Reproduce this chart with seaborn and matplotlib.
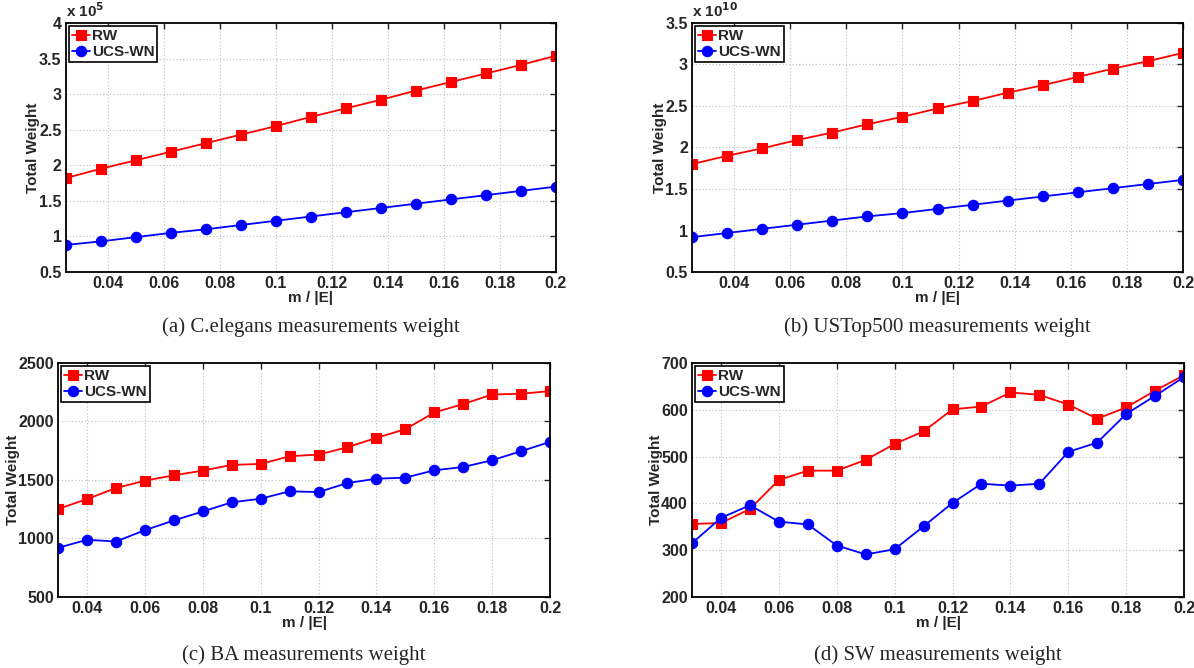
import pandas as pd
import numpy as np
import matplotlib
matplotlib.use("Agg")
import matplotlib.pyplot as plt
from matplotlib.ticker import FormatStrFormatter, MultipleLocator
import seaborn as sns

# x values (m / |E|)
x_top = [0.025, 0.0375, 0.05, 0.0625, 0.075, 0.0875, 0.1, 0.1125, 0.125,
         0.1375, 0.15, 0.1625, 0.175, 0.1875, 0.2]
x_bot = [0.03, 0.04, 0.05, 0.06, 0.07, 0.08, 0.09, 0.10, 0.11, 0.12,
         0.13, 0.14, 0.15, 0.16, 0.17, 0.18, 0.19, 0.20]

# (a) C.elegans, in units of 1e5
ce_rw = [1.82, 1.95, 2.07, 2.19, 2.31, 2.43, 2.55, 2.68, 2.80, 2.92, 3.05, 3.17, 3.29, 3.41, 3.54]
ce_ucs = [0.88, 0.93, 0.99, 1.05, 1.10, 1.16, 1.22, 1.28, 1.34, 1.40, 1.46, 1.52, 1.58, 1.64, 1.70]

# (b) USTop500, in units of 1e10
us_rw = [1.80, 1.90, 1.99, 2.09, 2.18, 2.28, 2.37, 2.47, 2.56, 2.66, 2.75, 2.85, 2.95, 3.04, 3.14]
us_ucs = [0.92, 0.97, 1.02, 1.07, 1.12, 1.17, 1.21, 1.26, 1.31, 1.36, 1.41, 1.46, 1.51, 1.56, 1.61]

# (c) BA
ba_rw = [1252, 1337, 1431, 1494, 1540, 1580, 1629, 1637, 1703, 1717,
         1780, 1860, 1934, 2077, 2149, 2231, 2237, 2260]
ba_ucs = [920, 989, 974, 1071, 1154, 1231, 1309, 1340, 1403, 1397,
          1474, 1511, 1520, 1583, 1611, 1669, 1746, 1826]

# (d) SW
sw_rw = [356, 358, 388, 450, 470, 470, 493, 527, 554, 601,
         607, 637, 632, 611, 581, 605, 641, 674]
sw_ucs = [315, 369, 396, 361, 355, 310, 291, 302, 351, 401,
          442, 438, 442, 510, 530, 591, 630, 670]

captions = ["(a) C.elegans measurements weight", "(b) USTop500 measurements weight",
            "(c) BA measurements weight", "(d) SW measurements weight"]

sns.set_style("whitegrid", {"grid.color": "#c4c4c4", "axes.edgecolor": "black",
                            "xtick.direction": "in", "ytick.direction": "in"})
plt.rcParams["font.family"] = ["Liberation Sans", "DejaVu Sans"]
plt.rcParams["font.weight"] = "bold"
plt.rcParams["axes.labelweight"] = "bold"

fig = plt.figure(figsize=(11.94, 6.68), dpi=100)
rects = [[0.0550, 0.5928, 0.4106, 0.3728],
         [0.5796, 0.5928, 0.4112, 0.3728],
         [0.0486, 0.1063, 0.4121, 0.3503],
         [0.5796, 0.1063, 0.4121, 0.3503]]

panels = [
    (x_top, ce_rw, ce_ucs, (0.5, 4.0), 0.5, r"x 10$^{5}$", (0.025, 0.2)),
    (x_top, us_rw, us_ucs, (0.5, 3.5), 0.5, r"x 10$^{10}$", (0.025, 0.2)),
    (x_bot, ba_rw, ba_ucs, (500, 2500), 500, None, (0.03, 0.2)),
    (x_bot, sw_rw, sw_ucs, (200, 700), 100, None, (0.03, 0.2)),
]
palette = {"RW": "red", "UCS-WN": "blue"}
markers = {"RW": "s", "UCS-WN": "o"}

for i, (xs, rw, ucs, ylim, ystep, mult, xlim) in enumerate(panels):
    ax = fig.add_axes(rects[i])
    df = pd.DataFrame({
        "x": list(xs) + list(xs),
        "y": list(rw) + list(ucs),
        "method": ["RW"] * len(rw) + ["UCS-WN"] * len(ucs),
    })
    sns.lineplot(data=df, x="x", y="y", hue="method", style="method",
                 palette=palette, markers=markers, dashes=False,
                 linewidth=1.3, markersize=7, legend=False, ax=ax)
    lines = ax.get_lines()
    for ln in lines:
        ln.set_markeredgecolor(ln.get_color())
        ln.set_markeredgewidth(0.8)
    lines[0].set_markersize(6.5)
    lines[1].set_markersize(7.5)
    ax.grid(True, linestyle=(0, (1, 2)), linewidth=0.8, color="#bdbdbd")
    ax.legend(lines[:2], ["RW", "UCS-WN"], loc="upper left", fancybox=False,
              framealpha=1, edgecolor="black", borderaxespad=0.2,
              handlelength=1.2, handletextpad=0.1, borderpad=0.2,
              labelspacing=0.15, prop={"weight": "bold", "size": 11})
    ax.get_legend().get_frame().set_linewidth(1.2)

    ax.set_xlim(*xlim)
    ax.set_ylim(*ylim)
    ax.yaxis.set_major_locator(MultipleLocator(ystep))
    ax.xaxis.set_major_formatter(FormatStrFormatter("%g"))
    ax.yaxis.set_major_formatter(FormatStrFormatter("%g"))
    ax.set_xticks([round(t, 2) for t in np.arange(0.04, 0.2001, 0.02)])
    ax.tick_params(axis="both", which="both", direction="in", top=True, right=True,
                   length=4, width=1, labelsize=11.5, pad=3)
    for lab in ax.get_xticklabels() + ax.get_yticklabels():
        lab.set_fontweight("bold")
    for sp in ax.spines.values():
        sp.set_linewidth(1.3)
        sp.set_color("black")
    ax.set_xlabel("m / |E|", fontsize=11, fontweight="bold", labelpad=0)
    ax.set_ylabel("Total Weight", fontsize=11, fontweight="bold", labelpad=-1)
    if mult:
        ax.text(0.0, 1.01, mult, transform=ax.transAxes, ha="left", va="bottom",
                fontsize=11, fontweight="bold")

    r = rects[i]
    cy = r[1] - (0.082 if i < 2 else 0.087)
    fig.text(r[0] + r[2] / 2, cy, captions[i], ha="center", va="center",
             fontsize=15, family=["Liberation Serif", "DejaVu Serif"],
             fontweight="normal")

fig.savefig("out.png", dpi=100)
